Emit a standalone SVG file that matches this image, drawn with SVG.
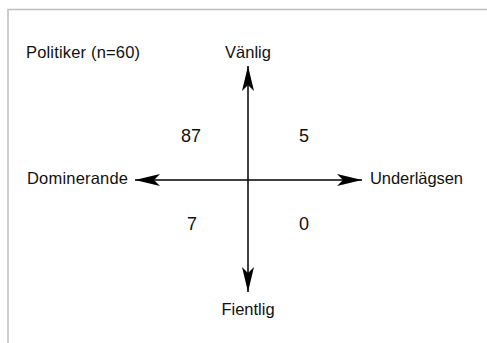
<svg xmlns="http://www.w3.org/2000/svg" width="487" height="343" viewBox="0 0 487 343">
<style>
text{font-family:"Liberation Sans",Arial,sans-serif;font-size:16.5px;fill:#111}
.num{font-size:18px}
.ax{stroke:#000;stroke-width:1.5;fill:none}
</style>
<defs>
<marker id="ah" markerUnits="userSpaceOnUse" markerWidth="26" markerHeight="13" refX="25" refY="6" orient="auto-start-reverse" viewBox="0 0 26 13">
<path d="M0,0 L25,6 L0,12 L6,6 Z" fill="#000"/>
</marker>
</defs>
<rect width="487" height="343" fill="#fff"/>
<path d="M8,343 L8,9.5 L487,9.5" fill="none" stroke="#bdbdbd" stroke-width="1.5"/>
<text x="26" y="58" textLength="114">Politiker (n=60)</text>
<g id="connectors">
<line class="ax" x1="248" y1="66" x2="248" y2="292" marker-start="url(#ah)" marker-end="url(#ah)"/>
<line class="ax" x1="135" y1="180" x2="362" y2="180" marker-start="url(#ah)" marker-end="url(#ah)"/>
</g>
<g id="vanlig"><text x="248" y="58" text-anchor="middle">Vänlig</text></g>
<g id="fientlig"><text x="248" y="315" text-anchor="middle">Fientlig</text></g>
<g id="dominerande"><text x="27" y="184" textLength="101">Dominerande</text></g>
<g id="underlagsen"><text x="370" y="184" textLength="93">Underlägsen</text></g>
<g id="q1"><text class="num" x="191" y="142" text-anchor="middle">87</text></g>
<g id="q2"><text class="num" x="304" y="142" text-anchor="middle">5</text></g>
<g id="q3"><text class="num" x="192" y="230" text-anchor="middle">7</text></g>
<g id="q4"><text class="num" x="304" y="230" text-anchor="middle">0</text></g>
</svg>
